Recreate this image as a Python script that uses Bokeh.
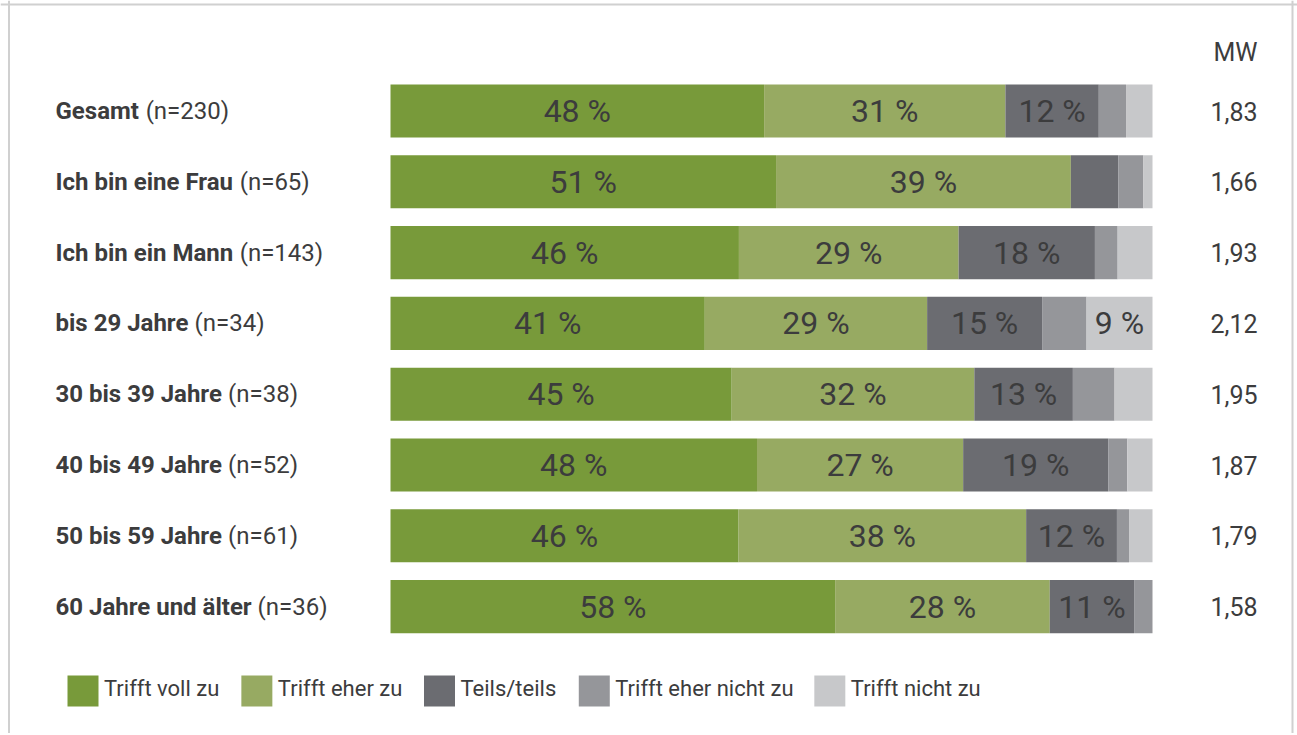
import numpy as np
from bokeh.plotting import figure
from bokeh.models import ColumnDataSource, Span, Range1d
from bokeh.core.properties import value
from bokeh.embed import file_html
from bokeh.resources import INLINE

# ---------------- data ----------------
groups_bold = ["Gesamt", "Ich bin eine Frau", "Ich bin ein Mann", "bis 29 Jahre",
               "30 bis 39 Jahre", "40 bis 49 Jahre", "50 bis 59 Jahre", "60 Jahre und älter"]
groups_n = ["(n=230)", "(n=65)", "(n=143)", "(n=34)", "(n=38)", "(n=52)", "(n=61)", "(n=36)"]
categories = ["Trifft voll zu", "Trifft eher zu", "Teils/teils", "Trifft eher nicht zu", "Trifft nicht zu"]
voll = [48, 51, 46, 41, 45, 48, 46, 58]
eher = [31, 39, 29, 29, 32, 27, 38, 28]
teils = [12, 6.3, 18, 15, 13, 19, 12, 11]
eher_nicht = [3.5, 3.3, 3.0, 5.8, 5.5, 2.5, 1.6, 2.4]
nicht = [3.4, 1.2, 4.6, 8.6, 5.0, 3.3, 3.1, 0.0]
mw = ["1,83", "1,66", "1,93", "2,12", "1,95", "1,87", "1,79", "1,58"]
mw_title = "MW"

# ---------------- style ----------------
colors = ["#789a3a", "#97aa62", "#6b6c71", "#95969a", "#c7c8ca"]
TXT = "#3c3c3d"
FONT = "Roboto"

FIG_W, FIG_H = 1297, 733
PX = 7.62            # pixels per percent
BAR_X0 = 390         # pixel where 0 % lies
ROW = 70.8           # pixels per row
ROW0 = 110.5         # pixel y of the first row centre

x_start = -BAR_X0 / PX
x_end = (FIG_W - BAR_X0) / PX
y_top = -ROW0 / ROW
y_bot = (FIG_H - ROW0) / ROW

# approximate Roboto advance widths (em), to place the mixed bold/regular labels
BOLD_W = {"G": .657, "e": .528, "s": .517, "a": .532, "m": .871, "t": .332, "I": .283,
          "c": .514, "h": .552, "b": .55, "i": .256, "n": .552, "F": .547, "r": .35,
          "u": .552, "M": .872, "J": .543, "d": .551, "ä": .532, "l": .256, " ": .243}
REG_W = {"T": .597, "r": .331, "i": .237, "f": .346, "t": .32, " ": .2476, "v": .473,
         "o": .557, "l": .237, "z": .484, "u": .538, "e": .517, "h": .538, "n": .539,
         "c": .523, "s": .515, "/": .402, "%": .715}


def text_w(s, table, size, k=1.0):
    return sum(table.get(ch, .5615) for ch in s) * size * k


# ---------------- derived ----------------
n = len(groups_bold)
series = [voll, eher, teils, eher_nicht, nicht]
raw = np.array(series, dtype=float)           # 5 x n
share = raw / raw.sum(axis=0) * 100.0         # normalise each row to 100 %
keys = ["s%d" % i for i in range(len(categories))]
src = ColumnDataSource({"y": list(range(n)), **{k: share[i] for i, k in enumerate(keys)}})

p = figure(width=FIG_W, height=FIG_H, output_backend="svg", toolbar_location=None,
           x_range=Range1d(x_start, x_end), y_range=Range1d(y_bot, y_top),
           x_axis_type=None, y_axis_type=None,
           min_border=0, min_border_left=0, min_border_right=0,
           min_border_top=0, min_border_bottom=0)
p.grid.visible = False
p.outline_line_color = None
p.background_fill_color = "white"
p.border_fill_color = "white"

p.hbar_stack(keys, y="y", height=0.75, color=colors, line_color=None, source=src)

# segment percentage labels
lx, ly, lt = [], [], []
cum = np.zeros(n)
for i in range(len(categories)):
    for j in range(n):
        if raw[i, j] >= 8:
            lx.append(cum[j] + share[i, j] / 2)
            ly.append(j)
            lt.append("%d %%" % round(raw[i, j]))
    cum += share[i]
p.text(x=lx, y=ly, text=lt, text_font=value(FONT), text_font_size="32px",
       text_color=TXT, text_align="center", text_baseline="middle")

# group labels (bold part + regular n part)
LAB_SIZE = 24
LAB_X = x_start + 55 / PX
p.text(x=[LAB_X] * n, y=list(range(n)), text=groups_bold, text_font=value(FONT),
       text_font_size="%dpx" % LAB_SIZE, text_font_style="bold", text_color=TXT,
       text_align="left", text_baseline="middle")
nx = [LAB_X + (text_w(g, BOLD_W, LAB_SIZE, 1.02) + 6) / PX for g in groups_bold]
p.text(x=nx, y=list(range(n)), text=groups_n, text_font=value(FONT),
       text_font_size="24px", text_color=TXT, text_align="left", text_baseline="middle")

# MW column
MW_X = x_start + 1257 / PX
p.text(x=[MW_X] * n, y=list(range(n)), text=mw, text_font=value(FONT),
       text_font_size="25px", text_color=TXT, text_align="right", text_baseline="middle")
p.text(x=[MW_X], y=[(52 - ROW0) / ROW], text=[mw_title], text_font=value(FONT),
       text_font_size="25px", text_color=TXT, text_align="right", text_baseline="middle")

# legend
LEG_Y = (690.5 - ROW0) / ROW
LEG_SIZE = 22
SQ = 31
pos = 67.0
sq_x, tx_x = [], []
for c in categories:
    sq_x.append(x_start + (pos + SQ / 2) / PX)
    tx_x.append(x_start + (pos + SQ + 5.5) / PX)
    pos += SQ + 5.5 + text_w(c, REG_W, LEG_SIZE) + 23
p.rect(x=sq_x, y=[LEG_Y] * len(categories), width=SQ, height=SQ,
       width_units="screen", height_units="screen", color=colors, line_color=None)
p.text(x=tx_x, y=[LEG_Y - 0.03] * len(categories), text=categories, text_font=value(FONT),
       text_font_size="%dpx" % LEG_SIZE, text_color=TXT, text_align="left", text_baseline="middle")

# frame lines (left, top, right)
BORDER = "#d0d0d0"
p.add_layout(Span(location=x_start + 8.5 / PX, dimension="height", line_color=BORDER, line_width=2))
p.add_layout(Span(location=x_start + 1292 / PX, dimension="height", line_color=BORDER, line_width=2))
p.add_layout(Span(location=y_top + 4 / ROW, dimension="width", line_color=BORDER, line_width=2))

open("out.html", "w").write(file_html(p, INLINE))
